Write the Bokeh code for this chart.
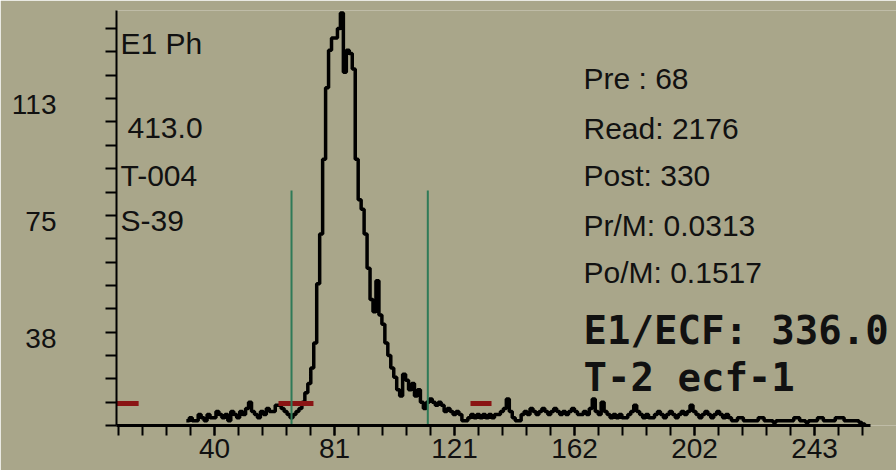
from bokeh.plotting import figure
from bokeh.models import FixedTicker, Label, CustomJSTickFormatter, LinearAxis, Range1d
from bokeh.embed import file_html
from bokeh.resources import INLINE

# ---------------- data ----------------
counts = [
    9, 10, 9, 9, 11, 10, 9, 11, 10, 10,          # 31-40
    12, 11, 10, 11, 9, 12, 11, 10, 12, 11,       # 41-50
    13, 15, 12, 11, 10, 12, 11, 13, 12, 12,      # 51-60
    14, 14, 13, 12, 11, 10, 11, 12, 13, 15,      # 61-70
    18, 21, 26, 34, 53, 69, 93, 116, 128, 132,   # 71-80
    132, 135, 140, 121, 128, 127, 122, 93, 80, 77,  # 81-90
    69, 58, 48, 44, 54, 43, 40, 34, 30, 26,      # 91-100
    23, 19, 17, 24, 22, 19, 21, 17, 19, 15,      # 101-110
    13, 15, 16, 15, 14, 15, 14, 12, 13, 12,      # 111-120
    11, 12, 11, 9, 9, 10, 11, 10, 11, 10,        # 121-130
    11, 10, 11, 10, 11, 11, 12, 13, 16, 12,      # 131-140
    10, 9, 9, 11, 12, 11, 13, 12, 11, 12,        # 141-150
    13, 12, 11, 12, 13, 12, 11, 12, 11, 12,      # 151-160
    13, 12, 11, 11, 12, 11, 13, 16, 12, 11,      # 161-170
    15, 12, 11, 10, 11, 10, 11, 10, 10, 11,      # 171-180
    12, 14, 12, 11, 10, 11, 10, 10, 11, 12,      # 181-190
    11, 10, 11, 12, 11, 10, 11, 12, 11, 12,      # 191-200
    14, 12, 11, 10, 11, 12, 11, 10, 11, 12,      # 201-210
    11, 10, 11, 10, 9, 9, 10, 10, 9, 9,          # 211-220
    9, 9, 9, 10, 10, 9, 9, 9, 8.5, 9,            # 221-230
    9, 9, 9, 9, 9, 10, 10, 9, 9, 8.5,            # 231-240
    9, 9, 9, 10, 10, 9, 9, 9, 9, 10,             # 241-250
    10, 10, 9, 9, 9, 9, 9, 8.5, 8, 7.8,          # 251-260
]
channels = list(range(31, 31 + len(counts)))

gate_x = [66.5, 112.5]
gate_top = [83, 83]

base_x0 = [6.4, 62.1, 126.9]
base_x1 = [14.9, 73.9, 134.0]
base_y = [14.6, 14.6, 14.6]

x_major = [40.5, 81.0, 121.5, 162.0, 202.5, 243.0]
x_labels = ["40", "81", "121", "162", "202", "243"]
x_minor = [round(8.1 * k, 1) for k in range(1, 33)]

y_ticks = [7.5 * k for k in range(1, 19)]
y_label_values = [37.5, 75.0, 112.5]
y_label_texts = ["38", "75", "113"]

left_texts = ["E1 Ph", "413.0", "T-004", "S-39"]
right_texts = ["Pre : 68", "Read: 2176", "Post: 330", "Pr/M: 0.0313", "Po/M: 0.1517"]
big_texts = ["E1/ECF: 336.0", "T-2 ecf-1"]

# ---------------- style ----------------
BG = "#a9a68a"
INK = "#111111"
FONT = "Liberation Sans"
MONO = "DejaVu Sans Mono"

X_START, X_AXIS_END, X_VIEW_END = 7.43, 261.9, 270.68
Y_START, Y_END = 7.5, 140.8

p = figure(width=896, height=470, x_range=(X_START, X_VIEW_END), y_range=(Y_START, Y_END),
           output_backend="svg", toolbar_location=None,
           min_border_left=116, min_border_right=0, min_border_top=10, min_border_bottom=45)
p.background_fill_color = BG
p.border_fill_color = BG
p.outline_line_color = None
p.grid.visible = False

# histogram
p.step(channels, counts, mode="after", line_width=3.5, line_color="black")
# baseline markers
p.segment(x0=base_x0, y0=base_y, x1=base_x1, y1=base_y, line_color="#8a1414", line_width=5)
# gate lines
p.segment(x0=gate_x, y0=[Y_START] * len(gate_x), x1=gate_x, y1=gate_top,
          line_color="#2f7a58", line_width=2)

# x axis
xa = p.xaxis[0]
xa.ticker = FixedTicker(ticks=x_major, minor_ticks=x_minor)
xa.major_label_overrides = dict(zip(x_major, x_labels))
xa.bounds = (X_START, X_AXIS_END)
xa.axis_line_width = 3
xa.axis_line_color = "black"
xa.major_tick_in = 0
xa.major_tick_out = 10
xa.minor_tick_in = 0
xa.minor_tick_out = 10
xa.major_tick_line_width = 2
xa.minor_tick_line_width = 2
xa.major_tick_line_color = "black"
xa.minor_tick_line_color = "black"
xa.major_label_text_font = FONT
xa.major_label_text_font_size = "28px"
xa.major_label_text_color = INK
xa.major_label_standoff = 3

# y axis (ticks only)
ya = p.yaxis[0]
ya.ticker = FixedTicker(ticks=y_ticks, minor_ticks=[])
ya.formatter = CustomJSTickFormatter(code="return ''")
ya.axis_line_width = 2
ya.axis_line_color = "black"
ya.major_tick_in = 0
ya.major_tick_out = 11
ya.major_tick_line_width = 2
ya.major_tick_line_color = "black"
ya.minor_tick_out = 0
ya.minor_tick_in = 0
ya.major_label_standoff = 0

# y labels on an outer axis, shifted a little lower like the instrument display
p.extra_y_ranges = {"lab": Range1d(Y_START + 1.9, Y_END + 1.9)}
lab_axis = LinearAxis(y_range_name="lab",
                      ticker=FixedTicker(ticks=y_label_values, minor_ticks=[]),
                      major_label_overrides=dict(zip(y_label_values, y_label_texts)),
                      axis_line_color=None, major_tick_line_color=None,
                      minor_tick_line_color=None, major_tick_in=0, major_tick_out=0,
                      minor_tick_in=0, minor_tick_out=0, major_label_standoff=49,
                      major_label_text_font=FONT, major_label_text_font_size="28px",
                      major_label_text_color=INK)
p.add_layout(lab_axis, "left")

# left info texts
left_pos = [(4, 382), (11, 298), (4, 250), (4, 205)]
for (sx, sy), t in zip(left_pos, left_texts):
    p.add_layout(Label(x=sx, y=sy, x_units="screen", y_units="screen", text=t,
                       text_align="left", text_baseline="middle",
                       text_font=FONT, text_font_size="30px", text_color=INK))

right_y = [347, 297, 250, 200, 153]
for sy, t in zip(right_y, right_texts):
    p.add_layout(Label(x=467, y=sy, x_units="screen", y_units="screen", text=t,
                       text_align="left", text_baseline="middle",
                       text_font=FONT, text_font_size="30px", text_color=INK))

big_y = [95, 48]
for sy, t in zip(big_y, big_texts):
    p.add_layout(Label(x=467, y=sy, x_units="screen", y_units="screen", text=t,
                       text_align="left", text_baseline="middle",
                       text_font=MONO, text_font_style="bold",
                       text_font_size="39px", text_color=INK))

open("out.html", "w").write(file_html(p, INLINE))
